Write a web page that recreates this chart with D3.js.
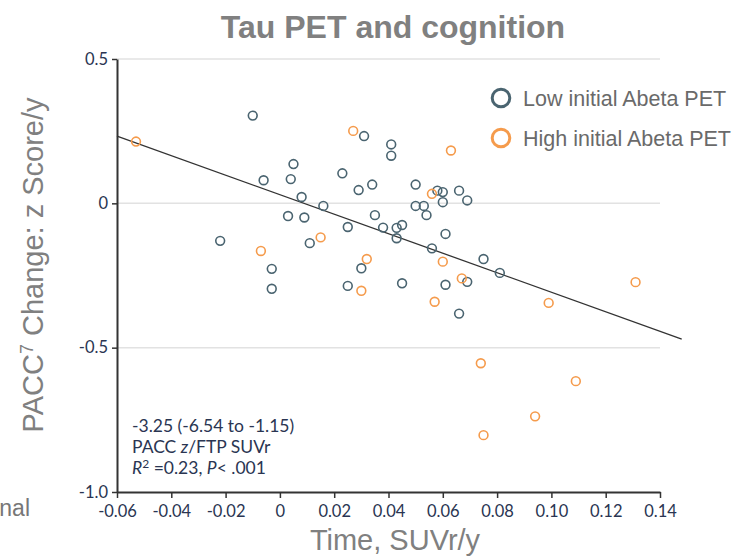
<!DOCTYPE html>
<html>
<head>
<meta charset="utf-8">
<script src="https://cdn.jsdelivr.net/npm/d3@7"></script>
<style>
  body { margin: 0; background: #fff; }
  svg { display: block; }
</style>
</head>
<body>
<div id="chart"></div>
<script>
// Low initial Abeta PET: [tau slope SUVr/y, PACC slope z/y]
const lowAbeta = [
  [-0.010, 0.304], [0.005, 0.136], [-0.006, 0.080], [0.004, 0.084],
  [0.008, 0.022], [0.003, -0.044], [0.009, -0.049], [0.031, 0.233],
  [0.041, 0.204], [0.041, 0.165], [0.023, 0.104], [0.029, 0.046],
  [0.034, 0.065], [0.050, 0.065], [0.058, 0.044], [0.060, 0.039],
  [0.066, 0.044], [0.069, 0.010], [0.016, -0.009], [0.050, -0.009],
  [0.053, -0.009], [0.060, 0.004], [0.054, -0.041], [0.035, -0.041],
  [0.025, -0.082], [0.038, -0.084], [0.043, -0.085], [0.045, -0.075],
  [0.043, -0.121], [0.061, -0.106], [0.011, -0.138], [0.056, -0.156],
  [0.075, -0.193], [0.081, -0.241], [0.030, -0.225], [0.069, -0.272],
  [0.061, -0.282], [0.045, -0.277], [0.025, -0.286], [0.066, -0.382],
  [-0.022, -0.130], [-0.003, -0.227], [-0.003, -0.296]
];
// High initial Abeta PET
const highAbeta = [
  [-0.053, 0.214], [0.027, 0.251], [0.063, 0.183], [0.056, 0.033],
  [0.015, -0.118], [-0.007, -0.165], [0.032, -0.193], [0.060, -0.202],
  [0.067, -0.260], [0.030, -0.303], [0.057, -0.341], [0.131, -0.273],
  [0.099, -0.345], [0.074, -0.554], [0.109, -0.616], [0.094, -0.738],
  [0.075, -0.803]
];
// fitted line
const fitIntercept = 0.03;
const fitSlope = -3.38;
const fitRange = [-0.06, 0.148];

const xTicks = [-0.06, -0.04, -0.02, 0, 0.02, 0.04, 0.06, 0.08, 0.10, 0.12, 0.14];
const xTickLabels = ["-0.06", "-0.04", "-0.02", "0", "0.02", "0.04", "0.06", "0.08", "0.10", "0.12", "0.14"];
const yTicks = [0.5, 0, -0.5, -1.0];
const yTickLabels = ["0.5", "0", "-0.5", "-1.0"];
const gridValues = [0.5, 0, -0.5];

const seriesNames = ["Low initial Abeta PET", "High initial Abeta PET"];

var width = 732, height = 556
  ,lowColor = "#4a6470", highColor = "#f59b4c"
  ,tickColor = "#2a3552", grayText = "#808080";

var x = d3.scaleLinear().domain([-0.06, 0.14]).range([117, 660]);
var y = d3.scaleLinear().domain([-1.0, 0.5]).range([492, 59]);

var svg = d3.select("#chart").append("svg")
    .attr("width", width)
    .attr("height", height);

// title
svg.append("text")
    .attr("x", 393)
    .attr("y", 38)
    .attr("text-anchor", "middle")
    .style("font", "bold 32px 'Liberation Sans', Arial, sans-serif")
    .attr("fill", grayText)
    .text("Tau PET and cognition");

// gridlines
svg.append("g")
    .selectAll("line")
    .data(gridValues)
    .join("line")
    .attr("x1", x(-0.06))
    .attr("x2", x(0.14))
    .attr("y1", d => y(d))
    .attr("y2", d => y(d))
    .attr("stroke", "#e2e2e2")
    .attr("stroke-width", 1.5);

// axes
var yAxis = svg.append("g")
    .attr("transform", `translate(${x(-0.06)},0)`)
    .call(d3.axisLeft(y)
        .tickValues(yTicks)
        .tickFormat((d, i) => yTickLabels[i])
        .tickSize(5)
        .tickSizeOuter(0)
        .tickPadding(4));

var xAxis = svg.append("g")
    .attr("transform", `translate(0,${y(-1.0)})`)
    .call(d3.axisBottom(x)
        .tickValues(xTicks)
        .tickFormat((d, i) => xTickLabels[i])
        .tickSize(6)
        .tickSizeOuter(0)
        .tickPadding(7));

[xAxis, yAxis].forEach(a => {
    a.select(".domain").attr("stroke", "#333").attr("stroke-width", 2);
    a.selectAll(".tick line").attr("stroke", "#333").attr("stroke-width", 1.5);
    a.selectAll(".tick text")
        .attr("fill", tickColor)
        .style("font", "16.5px Lato, 'Open Sans', sans-serif");
});

// regression line
svg.append("line")
    .attr("x1", x(fitRange[0]))
    .attr("y1", y(fitIntercept + fitSlope * fitRange[0]))
    .attr("x2", x(fitRange[1]))
    .attr("y2", y(fitIntercept + fitSlope * fitRange[1]))
    .attr("stroke", "#333")
    .attr("stroke-width", 1.3);

// points
function drawPoints(data, color) {
    svg.append("g")
        .selectAll("circle")
        .data(data)
        .join("circle")
        .attr("cx", d => x(d[0]))
        .attr("cy", d => y(d[1]))
        .attr("r", 4.4)
        .attr("fill", "none")
        .attr("stroke", color)
        .attr("stroke-width", 1.6);
}
drawPoints(lowAbeta, lowColor);
drawPoints(highAbeta, highColor);

// legend
var legend = svg.append("g")
    .selectAll("g")
    .data(seriesNames)
    .join("g")
    .attr("transform", (d, i) => `translate(501,${98 + i * 40})`);
legend.append("circle")
    .attr("r", 8.8)
    .attr("fill", "none")
    .attr("stroke", (d, i) => i ? highColor : lowColor)
    .attr("stroke-width", 3);
legend.append("text")
    .attr("x", 22)
    .attr("y", 8)
    .attr("fill", "#6a6a6a")
    .style("font", "21.5px 'Liberation Sans', Arial, sans-serif")
    .text(d => d);

// annotation
var note = svg.append("text")
    .attr("fill", tickColor)
    .style("font", "17.5px Lato, 'Open Sans', sans-serif");
note.append("tspan").attr("x", 132).attr("y", 432).text("-3.25 (-6.54 to -1.15)");
var l2 = note.append("tspan").attr("x", 132).attr("y", 453);
l2.append("tspan").text("PACC ");
l2.append("tspan").style("font-style", "italic").text("z");
l2.append("tspan").text("/FTP SUVr");
var l3 = note.append("tspan").attr("x", 132).attr("y", 474);
l3.append("tspan").style("font-style", "italic").text("R");
l3.append("tspan").attr("dy", -6).style("font-size", "12px").text("2");
l3.append("tspan").attr("dy", 6).text(" =0.23, ");
l3.append("tspan").style("font-style", "italic").text("P");
l3.append("tspan").text("< .001");

// axis titles
var yTitle = svg.append("text")
    .attr("transform", "translate(43,265) rotate(-90)")
    .attr("text-anchor", "middle")
    .attr("fill", grayText)
    .style("font", "29px 'Liberation Sans', Arial, sans-serif");
yTitle.append("tspan").text("PACC");
yTitle.append("tspan").attr("dy", -10).style("font-size", "18px").text("7");
yTitle.append("tspan").attr("dy", 10).text(" Change: z Score/y");

svg.append("text")
    .attr("x", 395)
    .attr("y", 550)
    .attr("text-anchor", "middle")
    .attr("fill", grayText)
    .style("font", "29px 'Liberation Sans', Arial, sans-serif")
    .text("Time, SUVr/y");

// clipped label fragment at left edge
svg.append("text")
    .attr("x", 30)
    .attr("y", 516)
    .attr("text-anchor", "end")
    .attr("fill", "#777")
    .style("font", "23px 'Liberation Sans', Arial, sans-serif")
    .text("nal");
</script>
</body>
</html>
